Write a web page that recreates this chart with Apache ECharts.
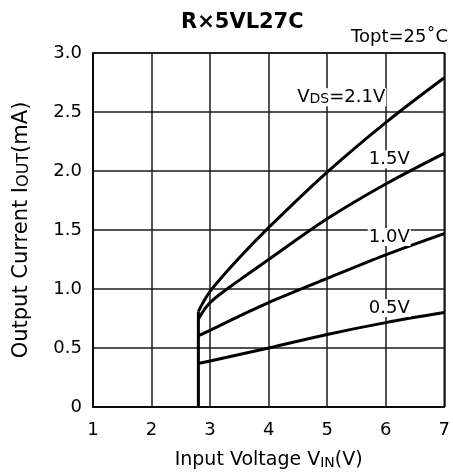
<!DOCTYPE html>
<html>
<head>
<meta charset="utf-8">
<script src="https://cdn.jsdelivr.net/npm/echarts@6/dist/echarts.min.js"></script>
<style>html,body{margin:0;padding:0;background:#fff;}#c{width:453px;height:475px;}</style>
</head>
<body>
<div id="c"></div>
<script>
// ---- data ----
var xTicks = [1, 2, 3, 4, 5, 6, 7];
var yTicks = [0, 0.5, 1.0, 1.5, 2.0, 2.5, 3.0];
var vds21 = [[2.8, 0.81], [3.0, 0.98], [3.5, 1.265], [4.0, 1.52], [5.0, 1.99], [6.0, 2.41], [7.0, 2.79]];
var vds15 = [[2.8, 0.745], [3.0, 0.885], [3.5, 1.075], [4.0, 1.25], [5.0, 1.595], [6.0, 1.89], [7.0, 2.15]];
var vds10 = [[2.8, 0.605], [3.0, 0.65], [3.5, 0.77], [4.0, 0.885], [5.0, 1.09], [6.0, 1.29], [7.0, 1.47]];
var vds05 = [[2.8, 0.37], [3.0, 0.39], [4.0, 0.50], [5.0, 0.615], [6.0, 0.715], [7.0, 0.80]];
var startLine = [[2.8, 0], [2.8, 0.81]];
var curveLabels = [
  [5.24, 2.625, '{n|V}{s|DS}{n|=2.1V}'],
  [6.06, 2.10, '{n|1.5V}'],
  [6.06, 1.44, '{n|1.0V}'],
  [6.06, 0.84, '{n|0.5V}']
];
var titleText = 'R\u00D75VL27C';
var condText = 'Topt=25\u02DAC';

var FF = 'DejaVu Sans';
var chart = echarts.init(document.getElementById('c'), null, {renderer: 'canvas'});
function curve(d) {
  return {
    type: 'line', data: d, smooth: 0.35, symbol: 'none', silent: true,
    lineStyle: {color: '#000', width: 3}, z: 3
  };
}
var rich = {
  n: {fontFamily: FF, fontSize: 18, color: '#000', verticalAlign: 'bottom', textBorderWidth: 0},
  s: {fontFamily: FF, fontSize: 14, color: '#000', verticalAlign: 'bottom', textBorderWidth: 0}
};
chart.setOption({
  animation: false,
  backgroundColor: '#fff',
  title: [
    {text: titleText, left: 181, top: 12, padding: 0,
     textStyle: {fontFamily: FF, fontSize: 21, fontWeight: 'bold', color: '#000'}},
    {text: condText, right: 5, top: 28, padding: 0,
     textStyle: {fontFamily: FF, fontSize: 18, fontWeight: 'normal', color: '#000'}}
  ],
  grid: {left: 93, right: 6, top: 53, bottom: 68, show: true, borderColor: '#000', borderWidth: 1.5, backgroundColor: 'transparent'},
  xAxis: {
    type: 'value', min: 1, max: 7, interval: 1,
    name: '{n|Input Voltage V}{s|IN}{n|(V)}', nameLocation: 'middle', nameGap: 44,
    nameTextStyle: {rich: {
      n: {fontFamily: FF, fontSize: 19, color: '#000', verticalAlign: 'bottom'},
      s: {fontFamily: FF, fontSize: 14, color: '#000', verticalAlign: 'bottom'}
    }},
    axisLine: {show: true, lineStyle: {color: '#000', width: 1.5}},
    axisTick: {show: false},
    axisLabel: {margin: 14, fontFamily: FF, fontSize: 18, color: '#000',
      formatter: function (v) { return xTicks.indexOf(v) >= 0 ? String(v) : ''; }},
    splitLine: {show: true, lineStyle: {color: '#1a1a1a', width: 1.5}}
  },
  yAxis: {
    type: 'value', min: 0, max: 3, interval: 0.5,
    name: '{n|Output Current I}{s|OUT}{n|(mA)}', nameLocation: 'middle', nameGap: 61, nameRotate: 90,
    nameTextStyle: {rich: {
      n: {fontFamily: FF, fontSize: 21, color: '#000', verticalAlign: 'bottom'},
      s: {fontFamily: FF, fontSize: 16, color: '#000', verticalAlign: 'bottom'}
    }},
    axisLine: {show: true, lineStyle: {color: '#000', width: 1.5}},
    axisTick: {show: false},
    axisLabel: {margin: 11, fontFamily: FF, fontSize: 18, color: '#000',
      formatter: function (v) {
        var t = yTicks.filter(function (y) { return Math.abs(y - v) < 1e-9; });
        if (!t.length) return '';
        return v === 0 ? '0' : t[0].toFixed(1);
      }},
    splitLine: {show: true, lineStyle: {color: '#1a1a1a', width: 1.5}}
  },
  series: [
    curve(vds21), curve(vds15), curve(vds10), curve(vds05),
    {type: 'line', data: startLine, symbol: 'none', silent: true, lineStyle: {color: '#000', width: 3}, z: 3},
    {type: 'scatter', silent: true, z: 4,
     data: curveLabels.map(function (d) { return {value: [d[0], d[1]], label: {formatter: d[2]}}; }),
     symbol: 'rect', symbolSize: 1, itemStyle: {color: '#fff', opacity: 1},
     label: {show: true, position: 'inside', color: '#000', textBorderWidth: 0, opacity: 1,
             backgroundColor: '#fff', padding: [0, 1], rich: rich}}
  ]
});
</script>
</body>
</html>
